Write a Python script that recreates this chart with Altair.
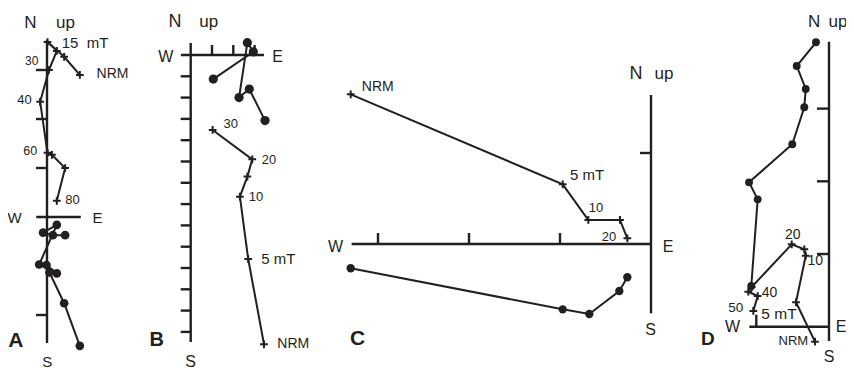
import altair as alt
import pandas as pd

# ---------------- panel geometry (page pixels) ----------------
# origin of each orthogonal diagram and pixels per axis tick unit
PANELS = {
    "A": dict(ox=47.0, oy=217.0, unit=49.0),
    "B": dict(ox=190.7, oy=55.0, unit=21.3),
    "C": dict(ox=651.0, oy=244.0, unit=91.0),
    "D": dict(ox=829.0, oy=326.7, unit=72.7),
}

# ---------------- data (tick units: east, north/up) ----------------
# crosses = vertical projection (up), dots = horizontal projection (N)
A_up_e = [0.67, 0.35, 0.01, 0.20, 0.04, -0.14, 0.01, 0.10, 0.37, 0.20]
A_up_n = [2.90, 3.27, 3.57, 3.39, 3.00, 2.35, 1.31, 1.27, 1.00, 0.33]
A_hz_e = [0.67, 0.35, 0.05, 0.20, -0.01, -0.16, 0.20, -0.08, 0.12, 0.37]
A_hz_n = [-2.63, -1.76, -1.13, -1.15, -0.98, -0.97, -0.16, -0.32, -0.37, -0.37]

B_up_e = [3.44, 2.70, 2.31, 2.66, 2.89, 1.03]
B_up_n = [-13.58, -9.58, -6.65, -5.71, -4.90, -3.52]
B_hz_e = [3.49, 2.75, 2.27, 2.66, 2.94, 1.06]
B_hz_n = [-3.08, -1.60, -2.00, 0.58, 0.15, -1.13]

C_up_e = [-3.30, -0.97, -0.689, -0.341, -0.260]
C_up_n = [1.645, 0.656, 0.264, 0.264, 0.063]
C_hz_e = [-3.30, -0.97, -0.678, -0.348, -0.260]
C_hz_n = [-0.267, -0.718, -0.769, -0.516, -0.366]

D_up_e = [-0.193, -0.454, -0.320, -0.340, -0.513, -1.063, -1.110, -0.981, -1.041]
D_up_n = [-0.206, 0.336, 0.977, 1.065, 1.133, 0.546, 0.481, 0.422, 0.216]
D_hz_e = [-0.179, -0.444, -0.320, -0.340, -0.505, -1.100, -0.981, -1.069]
D_hz_n = [3.912, 3.586, 3.270, 3.018, 2.509, 1.986, 1.752, 0.560]

SERIES = {
    ("A", "up"): (A_up_e, A_up_n), ("A", "hz"): (A_hz_e, A_hz_n),
    ("B", "up"): (B_up_e, B_up_n), ("B", "hz"): (B_hz_e, B_hz_n),
    ("C", "up"): (C_up_e, C_up_n), ("C", "hz"): (C_hz_e, C_hz_n),
    ("D", "up"): (D_up_e, D_up_n), ("D", "hz"): (D_hz_e, D_hz_n),
}

# axis extents (tick units): vertical N range, horizontal E range
AXES = {
    "A": dict(n=(3.61, -2.57), e=(-0.22, 0.69)),
    "B": dict(n=(0.56, -13.47), e=(-0.46, 3.44)),
    "C": dict(n=(1.637, -0.762), e=(-3.29, 0.0)),
    "D": dict(n=(3.92, -0.197), e=(-1.096, 0.0)),
}
LEFT_TICKS = {"A": [3, 2, 1, -1, -2], "B": list(range(-1, -14, -1)),
              "C": [1], "D": [1, 2, 3]}
UP_TICKS = {"A": [], "B": [1, 2, 3], "C": [-1, -2, -3], "D": [-1]}
TICK_LEN = {"A": 11, "B": 10, "C": 11, "D": 12}

# text annotations: text, x, baseline y, font size, bold
LABELS = [
    ("N", 30.5, 27.5, 17, False), ("up", 65.5, 27.5, 17, False),
    ("15\u00a0 mT", 85, 48.3, 15, False), ("NRM", 112.5, 78.3, 14, False),
    ("30", 31.7, 65, 12, False), ("40", 24.5, 104, 13, False),
    ("60", 30.3, 155, 12.5, False), ("80", 72.5, 204, 13, False),
    ("W", 14.5, 223.3, 15, False), ("E", 97.5, 223.3, 15, False),
    ("S", 47.2, 366.7, 15, False), ("A", 15.8, 346.7, 21, True),

    ("N", 175, 26.7, 18, False), ("up", 208.8, 26.7, 17, False),
    ("W", 165.8, 61.7, 16, False), ("E", 277.5, 61.7, 16, False),
    ("30", 230.8, 128.3, 13, False), ("20", 269, 164, 13, False),
    ("10", 256, 201, 13, False), ("5 mT", 278.3, 264.3, 15, False),
    ("NRM", 293.3, 348.3, 14, False), ("S", 190.5, 366.7, 16, False),
    ("B", 156.7, 345.7, 20, True),

    ("NRM", 377.8, 91, 14, False), ("5 mT", 587, 180, 15, False),
    ("10", 596, 211.7, 13, False), ("20", 609, 240.7, 13, False),
    ("N", 636, 79.3, 18, False), ("up", 664, 79.3, 17, False),
    ("W", 335.5, 251.7, 16, False), ("E", 668, 251.7, 16, False),
    ("S", 650.5, 335, 16, False), ("C", 357.5, 345, 21, True),

    ("N", 814.2, 27.3, 17, False), ("up", 838, 27.3, 17, False),
    ("W", 732.5, 332.3, 16, False), ("E", 841, 332.3, 16, False),
    ("5 mT", 779, 319.3, 15.5, False), ("NRM", 793.3, 345, 13, False),
    ("10", 815.3, 265, 14, False), ("20", 792.8, 239, 14, False),
    ("40", 769.5, 296.7, 14, False), ("50", 735.8, 311.7, 13.5, False),
    ("S", 829, 361.7, 16, False), ("D", 707.8, 345, 19, True),
]

INK = "#231f20"
FONT = "Liberation Sans"
DOT_SIZE = {"A": 75, "B": 85, "C": 70, "D": 62}

# ---------------- build tables ----------------
pts = []
for (p, kind), (es, ns) in SERIES.items():
    g = PANELS[p]
    for i, (e, n) in enumerate(zip(es, ns)):
        pts.append(dict(series=f"{p}-{kind}", panel=p, kind=kind, i=i,
                        x=g["ox"] + e * g["unit"], y=g["oy"] - n * g["unit"],
                        s=DOT_SIZE[p]))
pts = pd.DataFrame(pts)

segs = []
for p, ax in AXES.items():
    g = PANELS[p]
    segs.append(dict(x=g["ox"], x2=g["ox"], y=g["oy"] - ax["n"][0] * g["unit"],
                     y2=g["oy"] - ax["n"][1] * g["unit"]))
    segs.append(dict(x=g["ox"] + ax["e"][0] * g["unit"], x2=g["ox"] + ax["e"][1] * g["unit"],
                     y=g["oy"], y2=g["oy"]))
    L = TICK_LEN[p]
    for n in LEFT_TICKS[p]:
        yy = g["oy"] - n * g["unit"]
        segs.append(dict(x=g["ox"] - L, x2=g["ox"], y=yy, y2=yy))
    for e in UP_TICKS[p]:
        xx = g["ox"] + e * g["unit"]
        segs.append(dict(x=xx, x2=xx, y=g["oy"] - L, y2=g["oy"]))
segs = pd.DataFrame(segs)

labels = pd.DataFrame(LABELS, columns=["text", "x", "y", "size", "bold"])

W, H = 838, 362
xs = alt.Scale(domain=[8, 8 + W], nice=False, zero=False)
ys = alt.Scale(domain=[8, 8 + H], nice=False, zero=False, reverse=True)
X = alt.X("x:Q", scale=xs, axis=None)
Y = alt.Y("y:Q", scale=ys, axis=None)

axes_layer = alt.Chart(segs).mark_rule(color=INK, strokeWidth=2.4).encode(
    x=X, y=Y, x2="x2:Q", y2="y2:Q")

lines = alt.Chart(pts).mark_line(color=INK, strokeWidth=2).encode(
    x=X, y=Y, detail="series:N", order="i:Q")

dots = alt.Chart(pts[pts.kind == "hz"]).mark_circle(color=INK, opacity=1).encode(
    x=X, y=Y, size=alt.Size("s:Q", scale=None, legend=None))

crosses = alt.Chart(pts[pts.kind == "up"]).mark_point(
    shape="M-1,0L1,0M0,-1L0,1", size=60, filled=False, color=INK,
    strokeWidth=2, opacity=1).encode(x=X, y=Y)

txt_norm = alt.Chart(labels[~labels.bold]).mark_text(
    font=FONT, color=INK, align="center", baseline="alphabetic").encode(
    x=X, y=Y, text="text:N", size=alt.Size("size:Q", scale=None, legend=None))

txt_bold = alt.Chart(labels[labels.bold]).mark_text(
    font=FONT, color=INK, align="center", baseline="alphabetic",
    fontWeight="bold").encode(
    x=X, y=Y, text="text:N", size=alt.Size("size:Q", scale=None, legend=None))

chart = alt.layer(axes_layer, lines, dots, crosses, txt_norm, txt_bold).properties(
    width=W, height=H, padding=0, autosize=alt.AutoSizeParams(type="none"),
    background="white",
).configure_view(stroke=None)

chart.save("out.html", embed_options={"renderer": "svg", "actions": False})
